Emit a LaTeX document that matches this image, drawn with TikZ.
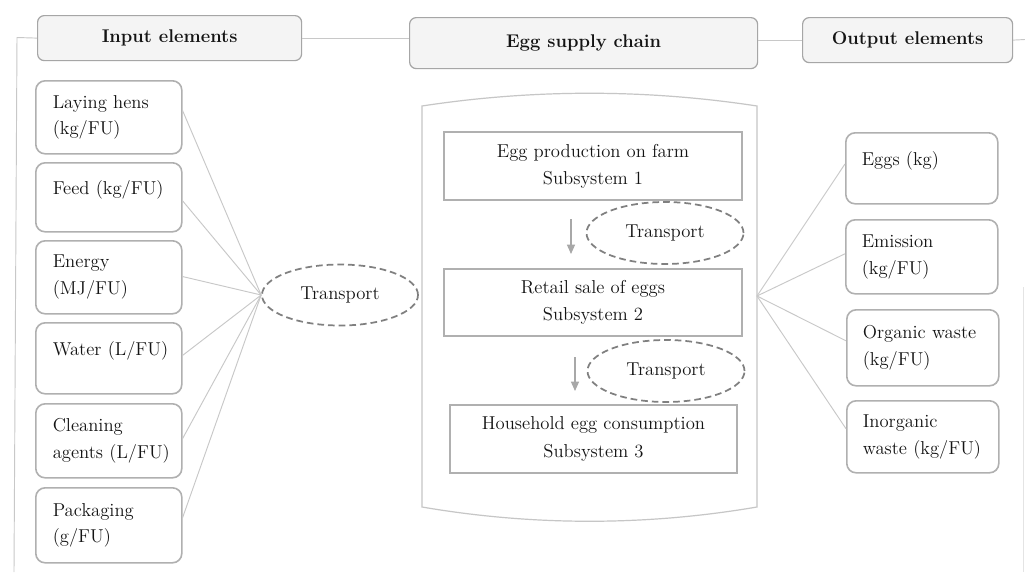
\documentclass[tikz,border=0pt]{standalone}
\usetikzlibrary{arrows.meta,shapes.geometric,calc}
\definecolor{boxline}{HTML}{B0B0B0}
\definecolor{hdrfill}{HTML}{F4F4F4}
\definecolor{hdrline}{HTML}{A6A6A6}
\definecolor{dashc}{HTML}{808080}
\definecolor{connc}{HTML}{C8C8C8}
\definecolor{cylc}{HTML}{C6C6C6}
\definecolor{arrc}{HTML}{A8A8A8}
\definecolor{txt}{HTML}{141414}
\begin{document}
\begin{tikzpicture}[x=0.75pt,y=-0.75pt,
  font=\fontsize{14}{20}\selectfont, text=txt,
  hdr/.style={draw=hdrline, fill=hdrfill, line width=0.9pt, rounded corners=5pt,
    font=\fontsize{13.8}{20}\selectfont\bfseries, inner sep=0pt, anchor=north west},
  lbox/.style={draw=boxline, line width=1.2pt, rounded corners=7pt, anchor=north west,
    minimum width=109.5pt, text width=84pt, inner xsep=12.75pt, inner ysep=0pt, align=left},
  rbox/.style={draw=boxline, line width=1.2pt, rounded corners=7pt, anchor=north west,
    minimum width=114pt, text width=90pt, inner xsep=12pt, inner ysep=0pt, align=left},
  subbox/.style={draw=boxline, line width=1.5pt, anchor=north west, inner sep=0pt,
    align=center, font=\fontsize{14}{20.5}\selectfont},
  trans/.style={ellipse, draw=dashc, dash pattern=on 5pt off 3pt, line width=1.3pt, inner sep=0pt},
  conn/.style={draw=connc, line width=0.7pt},
  cyl/.style={draw=cylc, line width=0.9pt},
  arr/.style={draw=arrc, line width=0.9pt, -{Triangle[length=7pt,width=6pt]}}
]
\fill[white] (0,0) rectangle (1025,572);
\useasboundingbox (0,0) rectangle (1025,572);

% headers
\node[hdr, minimum width=198pt, minimum height=33.75pt] (inp) at (37,15) {Input elements};
\node[hdr, minimum width=261pt, minimum height=38.25pt] (egg) at (409,17) {Egg supply chain};
\node[hdr, minimum width=157.5pt, minimum height=33.75pt] (outp) at (802,17) {Output elements};

% frame lines
\coordinate (ltop) at (17,37.5);
\coordinate (lbot) at (14,572);
\coordinate (rend) at (1025,39.5);
\coordinate (rv1) at (1023,287);
\coordinate (rv2) at (1023,572);
\draw[conn] (inp.west) -- (ltop) -- (lbot);
\draw[conn] (inp.east) -- (egg.west |- inp.east);
\draw[conn] (egg.east |- outp.west) -- (outp.west);
\draw[conn] (outp.east) -- (rend);
\draw[conn, draw=connc!50] (rv1) -- (rv2);

% input boxes
\node[lbox, minimum height=54.75pt] (hens) at (35,80) {Laying~hens\\(kg/FU)};
\node[lbox, minimum height=51.75pt] (feed) at (35,162) {Feed~(kg/FU)\\[-6pt]\mbox{}};
\node[lbox, minimum height=54.75pt] (energy) at (35,240) {Energy\\(MJ/FU)};
\node[lbox, minimum height=53.25pt] (water) at (35,322) {Water~(L/FU)\\[-6pt]\mbox{}};
\node[lbox, minimum height=55.5pt] (clean) at (35,403) {Cleaning\\agents~(L/FU)};
\node[lbox, minimum height=56.25pt] (pack) at (35,487) {Packaging\\(g/FU)};

% left transport
\node[trans, minimum width=117pt, minimum height=45.75pt] (tl) at (340,295) {Transport};

\draw[conn] ($(hens.north east)!0.41!(hens.south east)$) -- (tl.west);
\draw[conn] ($(feed.north east)!0.55!(feed.south east)$) -- (tl.west);
\draw[conn] ($(energy.north east)!0.49!(energy.south east)$) -- (tl.west);
\draw[conn] ($(water.north east)!0.46!(water.south east)$) -- (tl.west);
\draw[conn] ($(clean.north east)!0.47!(clean.south east)$) -- (tl.west);
\draw[conn] ($(pack.north east)!0.40!(pack.south east)$) -- (tl.west);

% supply chain container
\draw[cyl] (422,507) -- (422,106) .. controls (533,89) and (646,89) .. (757,106)
  -- (757,507) .. controls (646,526) and (533,526) .. cycle;
\coordinate (cr) at (757,296);

\node[subbox, minimum width=223.5pt, minimum height=51pt] (s1) at (443,131) {Egg production on farm\\Subsystem 1};
\node[subbox, minimum width=223.5pt, minimum height=50.25pt] (s2) at (443,268) {Retail sale of eggs\\Subsystem 2};
\node[subbox, minimum width=215.25pt, minimum height=51pt] (s3) at (449,404) {Household egg consumption\\Subsystem 3};

\node[trans, minimum width=117.75pt, minimum height=46.5pt] (t1) at (665,233) {Transport};
\node[trans, minimum width=117.75pt, minimum height=46.5pt] (t2) at (666,371) {Transport};

\coordinate (a1s) at (571,219);
\coordinate (a1e) at (571,254);
\coordinate (a2s) at (575,357);
\coordinate (a2e) at (575,391);
\draw[arr] (a1s) -- (a1e);
\draw[arr] (a2s) -- (a2e);

% output boxes
\node[rbox, minimum height=53.25pt] (eggs) at (845,132) {Eggs~(kg)\\[-6pt]\mbox{}};
\node[rbox, minimum height=55.5pt] (emis) at (845,219) {Emission\\(kg/FU)};
\node[rbox, minimum height=57pt] (org) at (846,309) {Organic~waste\\(kg/FU)};
\node[rbox, minimum height=54pt] (inorg) at (846,400) {Inorganic\\waste~(kg/FU)};

\draw[conn] (cr) -- ($(eggs.north west)!0.44!(eggs.south west)$);
\draw[conn] (cr) -- ($(emis.north west)!0.46!(emis.south west)$);
\draw[conn] (cr) -- ($(org.north west)!0.41!(org.south west)$);
\draw[conn] (cr) -- ($(inorg.north west)!0.39!(inorg.south west)$);
\end{tikzpicture}
\end{document}
